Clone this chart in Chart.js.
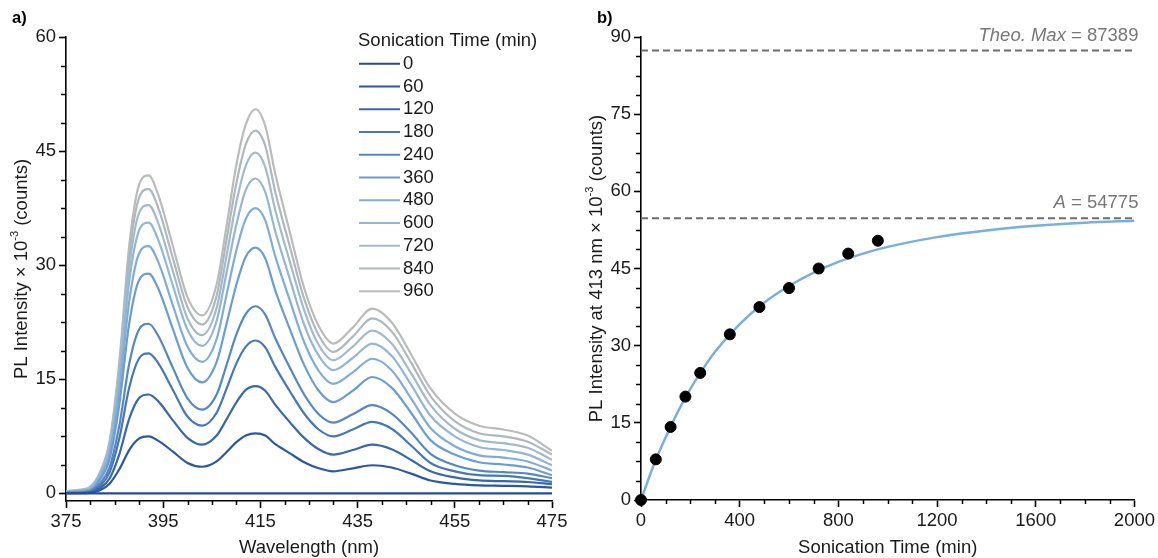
<!DOCTYPE html>
<html>
<head>
<meta charset="utf-8">
<script src="https://cdn.jsdelivr.net/npm/chart.js@4.4.0/dist/chart.umd.min.js"></script>
<style>
  html, body { margin: 0; padding: 0; background: #fff; }
  #wrap { position: relative; width: 1158px; height: 558px; overflow: hidden; }
  #specChart { position: absolute; left: 0; top: 0; }
  #kinChart { position: absolute; left: 575px; top: 0; }
</style>
</head>
<body>
<div id="wrap">
  <canvas id="specChart" width="575" height="558"></canvas>
  <canvas id="kinChart" width="583" height="558"></canvas>
</div>
<script>
// ---- panel a: PL spectra (values x 10^-3 counts) ----
const wavelengths = [375, 378, 380, 382, 384, 386, 388, 390, 392, 394, 397, 400, 403, 406, 408, 410, 412, 414, 416, 418, 421, 424, 427, 430, 434, 438, 442, 446, 450, 455, 460, 465, 470, 475];
const sonicationTimes = [0, 60, 120, 180, 240, 360, 480, 600, 720, 840, 960];

const pl0   = [0, 0, 0, 0, 0, 0, 0, 0, 0, 0, 0, 0, 0, 0, 0, 0, 0, 0, 0, 0, 0, 0, 0, 0, 0, 0, 0, 0, 0, 0, 0, 0, 0, 0];
const pl60  = [0.02, 0.03, 0.08, 0.4, 1.3, 3.2, 5.7, 7.2, 7.5, 6.9, 5.5, 4.0, 3.5, 4.2, 5.4, 6.7, 7.6, 7.9, 7.6, 6.5, 5.3, 4.1, 3.3, 2.9, 3.3, 3.7, 3.4, 2.6, 1.7, 1.25, 1.05, 1.0, 0.93, 0.75];
const pl120 = [0.03, 0.05, 0.15, 0.7, 2.0, 5.2, 9.8, 12.5, 13.0, 12.1, 9.6, 7.3, 6.4, 7.6, 9.7, 11.9, 13.6, 14.1, 13.5, 11.7, 9.4, 7.3, 5.8, 5.1, 5.7, 6.4, 5.8, 4.4, 2.9, 2.1, 1.7, 1.6, 1.5, 1.2];
const pl180 = [0.05, 0.08, 0.2, 1.0, 2.8, 7.3, 13.9, 17.7, 18.4, 17.1, 13.6, 10.1, 8.9, 10.6, 13.7, 17.0, 19.3, 20.1, 19.2, 16.7, 13.5, 10.5, 8.4, 7.5, 8.4, 9.4, 8.5, 6.3, 4.0, 2.9, 2.4, 2.3, 2.0, 1.5];
const pl240 = [0.05, 0.1, 0.3, 1.3, 3.5, 9.0, 17.0, 21.5, 22.3, 20.7, 16.5, 12.5, 11.0, 13.0, 16.8, 20.8, 23.6, 24.6, 23.5, 20.5, 16.6, 13.0, 10.4, 9.3, 10.4, 11.6, 10.5, 8.0, 5.2, 3.7, 3.0, 2.8, 2.6, 2.0];
const pl360 = [0.1, 0.2, 0.4, 1.8, 4.6, 11.8, 22.3, 28.0, 28.9, 26.9, 21.6, 16.5, 14.6, 17.3, 22.2, 27.3, 31.1, 32.3, 30.9, 26.8, 21.7, 16.9, 13.5, 12.0, 13.5, 15.3, 13.9, 10.6, 7.0, 5.1, 4.1, 3.8, 3.4, 2.4];
const pl480 = [0.15, 0.3, 0.5, 2.1, 5.3, 13.5, 25.2, 31.5, 32.5, 30.4, 24.7, 19.3, 17.3, 20.3, 26.0, 31.8, 36.1, 37.5, 35.9, 31.3, 25.5, 19.9, 16.1, 14.4, 15.9, 17.7, 16.2, 12.5, 8.6, 6.2, 5.0, 4.7, 4.2, 3.0];
const pl600 = [0.2, 0.35, 0.6, 2.4, 5.9, 15.0, 27.8, 34.5, 35.6, 33.3, 27.3, 21.5, 19.4, 22.7, 28.9, 35.2, 39.9, 41.4, 39.6, 34.6, 28.3, 22.2, 18.1, 16.2, 17.8, 19.7, 18.1, 14.3, 10.2, 7.5, 6.1, 5.7, 5.1, 3.7];
const pl720 = [0.25, 0.4, 0.7, 2.5, 6.3, 15.9, 29.6, 36.8, 37.9, 35.5, 29.2, 23.0, 20.8, 24.4, 31.1, 38.1, 43.1, 44.8, 42.9, 37.4, 30.6, 24.1, 19.5, 17.5, 19.3, 21.4, 19.7, 15.8, 11.6, 8.5, 7.0, 6.6, 6.0, 4.4];
const pl840 = [0.3, 0.45, 0.8, 2.7, 6.7, 16.8, 31.2, 38.8, 40.0, 37.5, 30.9, 24.5, 22.2, 26.0, 33.2, 40.6, 45.9, 47.7, 45.7, 39.8, 32.6, 25.6, 20.8, 18.6, 20.6, 23.0, 21.3, 17.2, 12.8, 9.5, 7.9, 7.5, 6.8, 5.1];
const pl960 = [0.3, 0.5, 0.9, 2.8, 7.0, 17.5, 32.5, 40.5, 41.8, 39.2, 32.5, 25.8, 23.4, 27.5, 35.0, 43.0, 48.5, 50.5, 48.3, 42.2, 34.5, 27.0, 22.0, 19.7, 21.8, 24.3, 22.5, 18.3, 13.8, 10.5, 8.9, 8.4, 7.6, 5.6];
const spectra = [pl0, pl60, pl120, pl180, pl240, pl360, pl480, pl600, pl720, pl840, pl960];

const specXTicks = [375, 395, 415, 435, 455, 475];
const specYTicks = [0, 15, 30, 45, 60];

// ---- panel b: intensity at 413 nm vs sonication time ----
const sampleTimes = [0, 60, 120, 180, 240, 360, 480, 600, 720, 840, 960];
const peakIntensity = [0, 7.9, 14.2, 20.1, 24.7, 32.2, 37.5, 41.2, 45.0, 47.9, 50.4];
const fitTimes = [0, 50, 100, 150, 200, 250, 300, 400, 500, 600, 700, 800, 900, 1000, 1200, 1400, 1600, 1800, 2000];
const fitIntensity = [0, 6.6, 12.2, 17.2, 21.6, 25.4, 28.8, 34.2, 38.4, 41.6, 44.2, 46.3, 47.9, 49.2, 51.1, 52.4, 53.3, 53.9, 54.3];
const theoMax = 87.389;
const fitA = 54.775;
const kinXTicks = [0, 400, 800, 1200, 1600, 2000];
const kinYTicks = [0, 15, 30, 45, 60, 75, 90];

const lineColors = ['#254c94', '#2b58a1', '#3767ad', '#4577b9', '#5587c4', '#6c9dd2', '#82acd8', '#93b6d6', '#a2bacb', '#aeb9bf', '#b9bcb9'];
const FONT = '"Liberation Sans", Arial, Helvetica, sans-serif';
const FS = 18.5;

// draws text made of parts (italic / superscript pieces)
function drawRich(ctx, parts, x, y, size, align) {
  const fontFor = p => (p.italic ? 'italic ' : '') + (p.bold ? 'bold ' : '') + (p.sup ? Math.round(size * 0.62) : size) + 'px ' + FONT;
  let total = 0;
  parts.forEach(p => { ctx.font = fontFor(p); total += ctx.measureText(p.text).width; });
  let cx = align === 'right' ? x - total : (align === 'left' ? x : x - total / 2);
  ctx.textAlign = 'left';
  ctx.textBaseline = 'middle';
  parts.forEach(p => {
    ctx.font = fontFor(p);
    ctx.fillText(p.text, cx, p.sup ? y - size * 0.36 : y);
    cx += ctx.measureText(p.text).width;
  });
}

// shorter minor tick marks between the major ones
const minorTicks = {
  id: 'minorTicks',
  afterDraw(chart, args, opts) {
    const ctx = chart.ctx;
    ctx.save();
    ctx.strokeStyle = '#000';
    ctx.lineWidth = 1.5;
    Object.entries(opts.steps || {}).forEach(([id, step]) => {
      const scale = chart.scales[id];
      const majors = scale.ticks.map(t => t.value);
      const first = Math.max(0, Math.ceil(scale.min / step)) * step;
      for (let v = first; v <= scale.max + 1e-9; v += step) {
        if (majors.some(m => Math.abs(m - v) < 1e-6)) continue;
        const p = Math.round(scale.getPixelForValue(v)) + 0.5;
        ctx.beginPath();
        if (scale.isHorizontal()) {
          ctx.moveTo(p, chart.chartArea.bottom);
          ctx.lineTo(p, chart.chartArea.bottom + 4);
        } else {
          ctx.moveTo(chart.chartArea.left, p);
          ctx.lineTo(chart.chartArea.left - 5, p);
        }
        ctx.stroke();
      }
    });
    ctx.restore();
  }
};

// axis titles and panel letter
const axisText = {
  id: 'axisText',
  afterDraw(chart, args, opts) {
    const ctx = chart.ctx;
    const area = chart.chartArea;
    ctx.save();
    ctx.fillStyle = '#1a1a1a';
    drawRich(ctx, opts.xTitle, (area.left + area.right) / 2, 548, FS, 'center');
    ctx.save();
    ctx.translate(22, (area.top + area.bottom) / 2);
    ctx.rotate(-Math.PI / 2);
    drawRich(ctx, opts.yTitle, 0, 0, FS, 'center');
    ctx.restore();
    ctx.fillStyle = '#000';
    drawRich(ctx, [{ text: opts.panel, bold: true }], opts.panelX, 18, 16.5, 'left');
    ctx.restore();
  }
};

// vertical legend for the spectra
const specLegend = {
  id: 'specLegend',
  afterDraw(chart, args, opts) {
    const ctx = chart.ctx;
    ctx.save();
    ctx.fillStyle = '#1a1a1a';
    drawRich(ctx, [{ text: opts.title }], opts.x, opts.y, FS, 'left');
    chart.data.datasets.forEach((ds, i) => {
      const y = opts.y + opts.gap * (i + 1);
      ctx.strokeStyle = ds.borderColor;
      ctx.lineWidth = 2.2;
      ctx.beginPath();
      ctx.moveTo(opts.x + 1, y);
      ctx.lineTo(opts.x + 42, y);
      ctx.stroke();
      ctx.fillStyle = '#1a1a1a';
      drawRich(ctx, [{ text: ds.label }], opts.x + 45, y, FS, 'left');
    });
    ctx.restore();
  }
};

// labels sitting on the dashed reference lines
const refLabels = {
  id: 'refLabels',
  afterDraw(chart, args, opts) {
    const ctx = chart.ctx;
    const ys = chart.scales.y;
    ctx.save();
    ctx.fillStyle = '#777';
    opts.items.forEach(item => {
      drawRich(ctx, item.parts, chart.chartArea.right + 4, ys.getPixelForValue(item.value) - 15, FS, 'right');
    });
    ctx.restore();
  }
};

const tickFont = { family: FONT, size: FS };
function axisStyle() {
  return {
    border: { display: true, color: '#000', width: 1.6 },
    grid: { display: true, drawOnChartArea: false, drawTicks: true, tickLength: 7, tickColor: '#000', tickWidth: 1.6 },
  };
}
const plainTick = { font: tickFont, color: '#1a1a1a', padding: 3, callback: v => String(v) };

// panel a
new Chart(document.getElementById('specChart'), {
  type: 'line',
  data: {
    datasets: sonicationTimes.map((t, i) => ({
      label: String(t),
      data: wavelengths.map((w, j) => ({ x: w, y: spectra[i][j] })),
      borderColor: lineColors[i],
      borderWidth: 2.2,
      pointRadius: 0,
      cubicInterpolationMode: 'monotone',
      fill: false
    }))
  },
  options: {
    responsive: false,
    animation: false,
    layout: { padding: { left: 0, top: 37, right: 23, bottom: 0 } },
    plugins: {
      legend: { display: false },
      tooltip: { enabled: false },
      minorTicks: { steps: { x: 5, y: 3.75 } },
      axisText: {
        xTitle: [{ text: 'Wavelength (nm)' }],
        yTitle: [{ text: 'PL Intensity × 10' }, { text: '-3', sup: true }, { text: ' (counts)' }],
        panel: 'a)', panelX: 12
      },
      specLegend: { title: 'Sonication Time (min)', x: 358, y: 41, gap: 22.75 }
    },
    scales: {
      x: {
        type: 'linear', min: 375, max: 475,
        afterFit(scale) { scale.height = 57; },
        afterBuildTicks(scale) { scale.ticks = specXTicks.map(v => ({ value: v })); },
        ticks: plainTick,
        ...axisStyle()
      },
      y: {
        min: -1, max: 60,
        afterFit(scale) { scale.width = 66; },
        afterBuildTicks(scale) { scale.ticks = specYTicks.map(v => ({ value: v })); },
        ticks: plainTick,
        ...axisStyle()
      }
    }
  },
  plugins: [minorTicks, axisText, specLegend]
});

// panel b
new Chart(document.getElementById('kinChart'), {
  type: 'line',
  data: {
    datasets: [
      {
        label: 'data',
        data: sampleTimes.map((t, i) => ({ x: t, y: peakIntensity[i] })),
        showLine: false,
        pointRadius: 5.5,
        pointBackgroundColor: '#000',
        pointBorderColor: '#000',
        clip: false
      },
      {
        label: 'fit',
        data: fitTimes.map((t, i) => ({ x: t, y: fitIntensity[i] })),
        borderColor: '#7aaedb',
        borderWidth: 2.5,
        pointRadius: 0,
        cubicInterpolationMode: 'monotone'
      },
      {
        label: 'A',
        data: [{ x: 0, y: fitA }, { x: 2000, y: fitA }],
        borderColor: '#6e6e6e', borderWidth: 2, borderDash: [7, 4], pointRadius: 0, clip: false
      },
      {
        label: 'Theo. Max',
        data: [{ x: 0, y: theoMax }, { x: 2000, y: theoMax }],
        borderColor: '#6e6e6e', borderWidth: 2, borderDash: [7, 4], pointRadius: 0, clip: false
      }
    ]
  },
  options: {
    responsive: false,
    animation: false,
    layout: { padding: { left: 0, top: 37, right: 22, bottom: 0 } },
    plugins: {
      legend: { display: false },
      tooltip: { enabled: false },
      minorTicks: { steps: { x: 100, y: 3.75 } },
      axisText: {
        xTitle: [{ text: 'Sonication Time (min)' }],
        yTitle: [{ text: 'PL Intensity at 413 nm × 10' }, { text: '-3', sup: true }, { text: ' (counts)' }],
        panel: 'b)', panelX: 22
      },
      refLabels: {
        items: [
          { value: theoMax, parts: [{ text: 'Theo. Max', italic: true }, { text: ' = 87389' }] },
          { value: fitA, parts: [{ text: 'A', italic: true }, { text: ' = 54775' }] }
        ]
      }
    },
    scales: {
      x: {
        type: 'linear', min: 0, max: 2000,
        afterFit(scale) { scale.height = 58; },
        afterBuildTicks(scale) { scale.ticks = kinXTicks.map(v => ({ value: v })); },
        ticks: plainTick,
        ...axisStyle()
      },
      y: {
        min: 0, max: 90,
        afterFit(scale) { scale.width = 66; },
        afterBuildTicks(scale) { scale.ticks = kinYTicks.map(v => ({ value: v })); },
        ticks: plainTick,
        ...axisStyle()
      }
    }
  },
  plugins: [minorTicks, axisText, refLabels]
});
</script>
</body>
</html>
